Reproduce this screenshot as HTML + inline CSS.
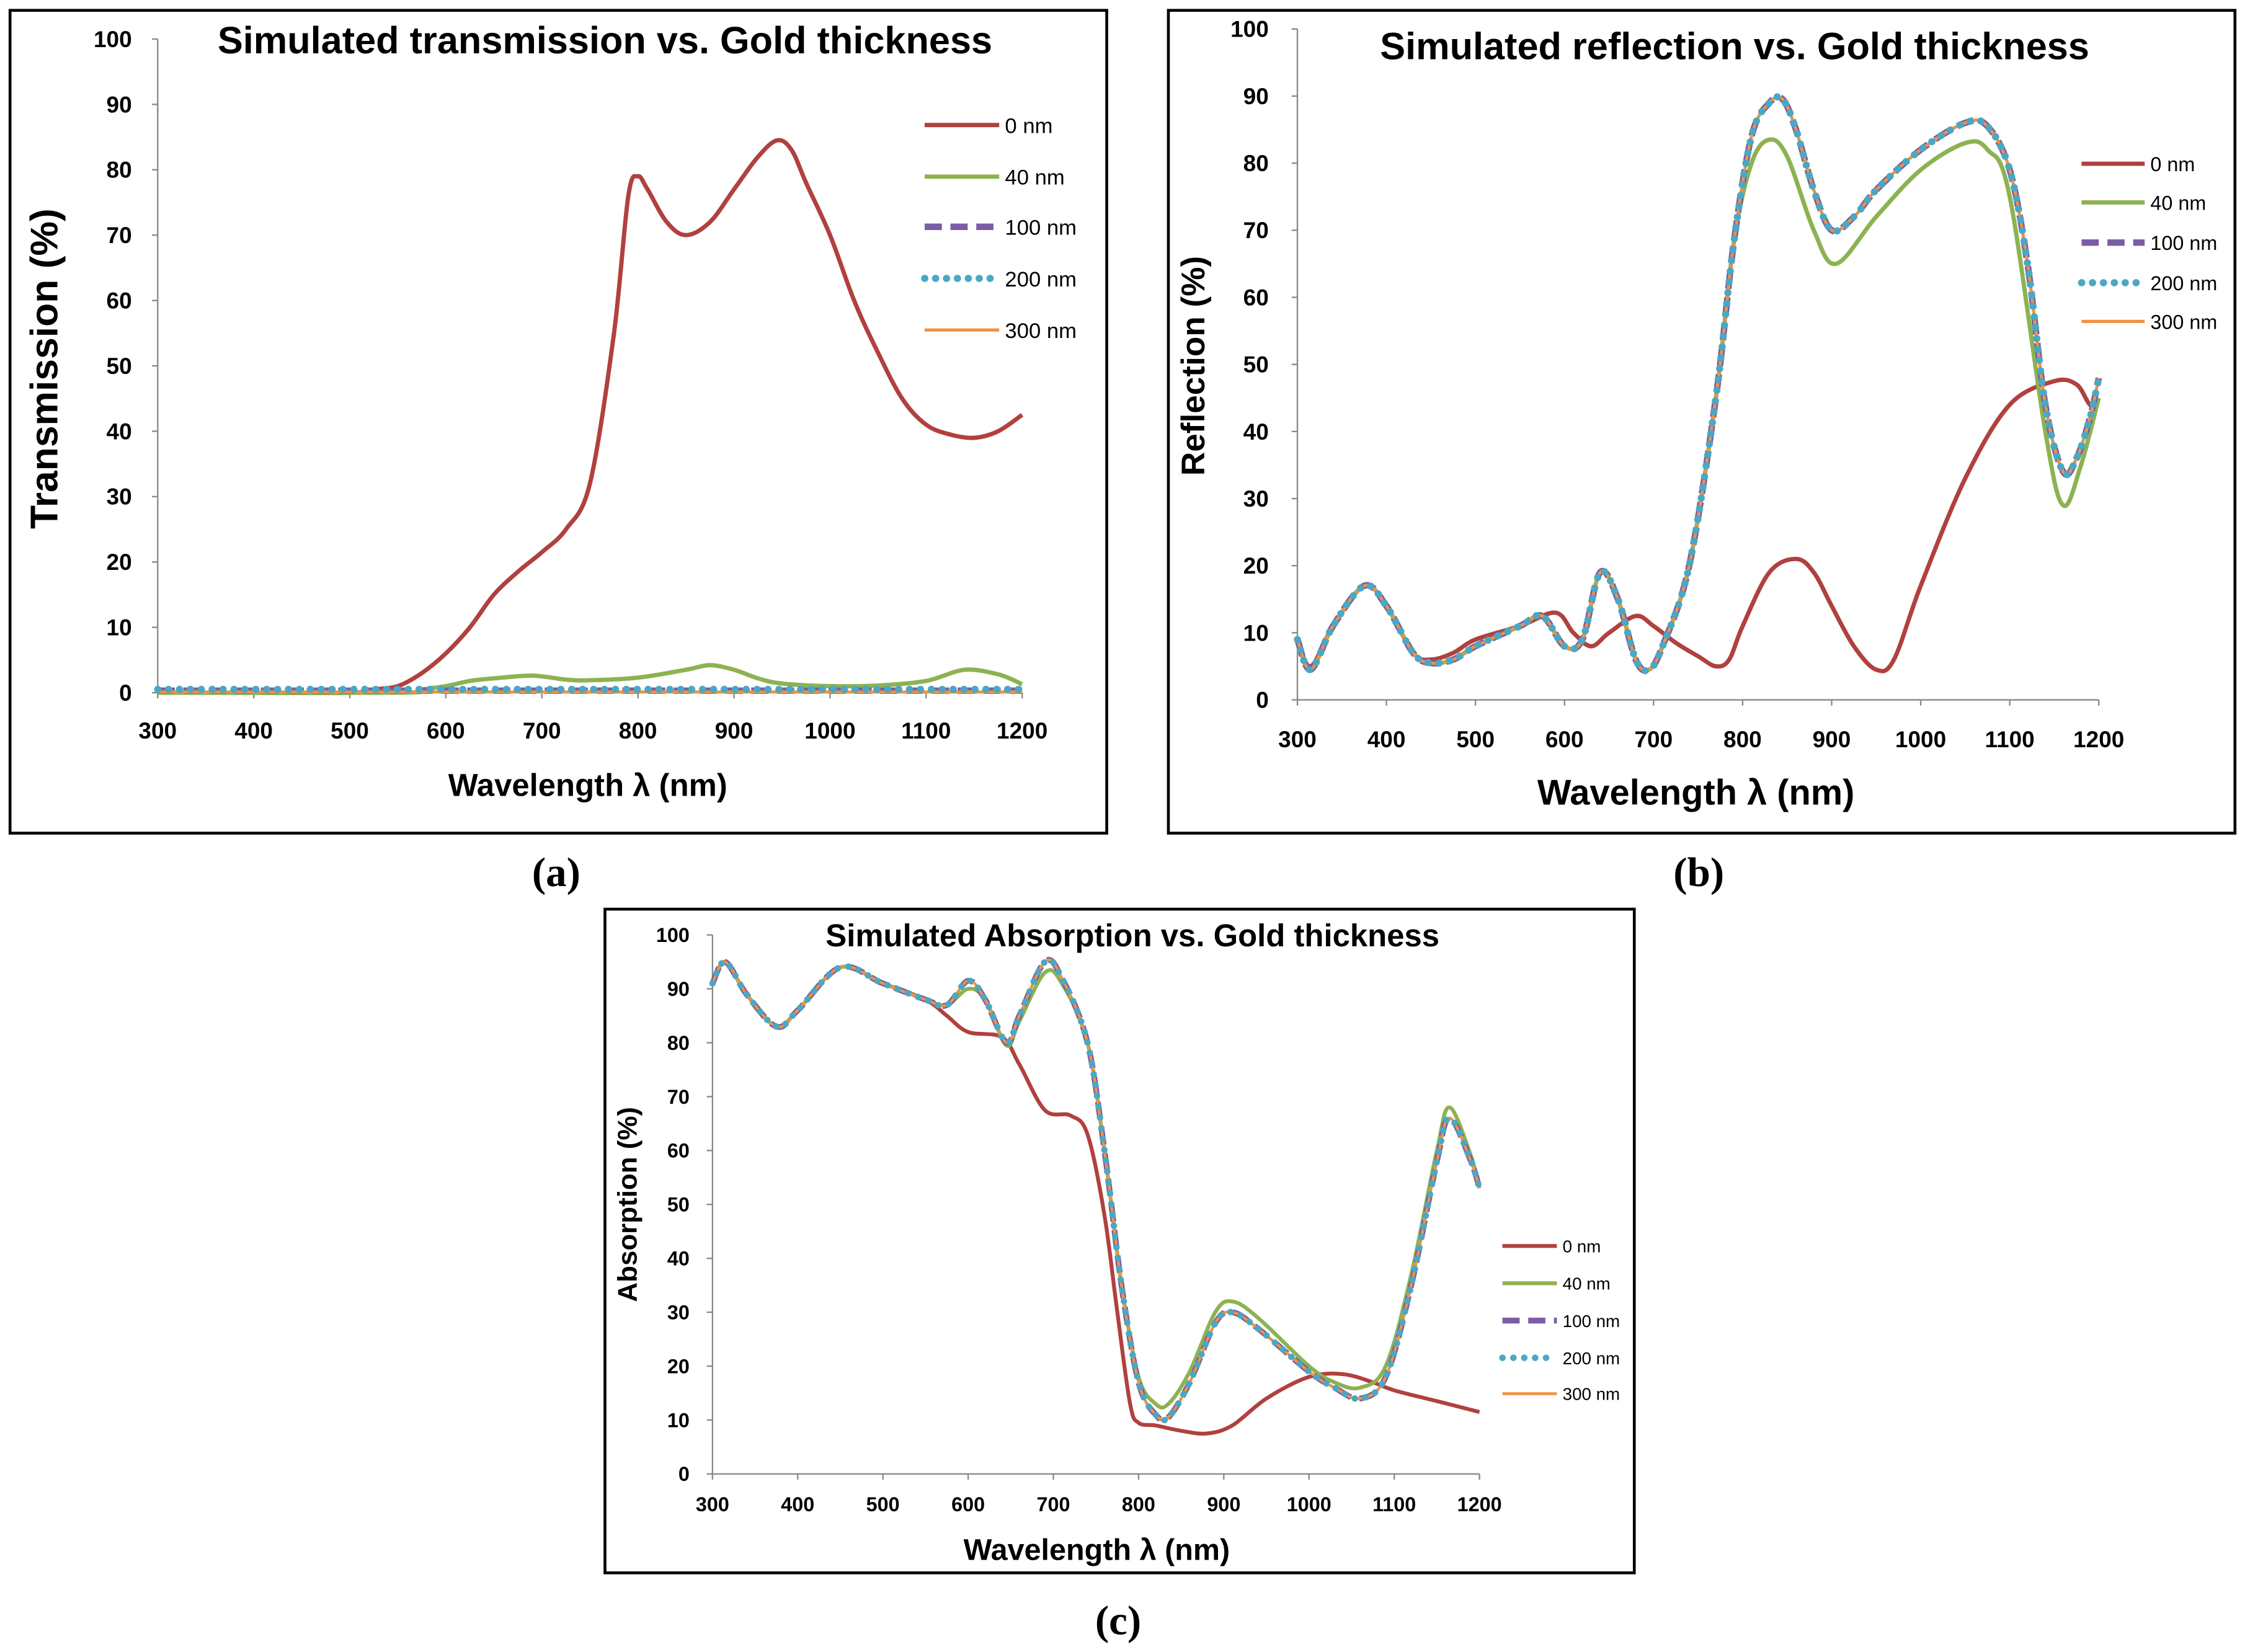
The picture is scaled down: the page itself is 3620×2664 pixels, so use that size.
<!DOCTYPE html>
<html><head><meta charset="utf-8"><style>
html,body{margin:0;padding:0;background:#fff}
svg{display:block}
text{font-family:"Liberation Sans",sans-serif}
</style></head><body>
<svg id="fig" width="3620" height="2664" viewBox="0 0 1566 1152" xmlns="http://www.w3.org/2000/svg"></svg>
<script>
// ---- data ----
const seriesNames = ["0 nm","40 nm","100 nm","200 nm","300 nm"];
// (a) transmission
const tWl0 = [300,400,500,525,550,575,600,625,650,675,700,725,750,775,790,800,810,830,850,875,900,925,945,960,975,1000,1025,1050,1075,1100,1125,1150,1175,1200];
const tVal0 = [0,0,0,0.5,1,3,6,10,15,18.5,21.5,25,32,55,76,79,77,72,70,72,77,82,84.5,83,78,70,60,52,45,41,39.5,39,40,42.5];
const tWl40 = [300,550,575,600,625,650,690,725,750,800,850,875,900,925,950,1000,1050,1100,1140,1175,1200];
const tVal40 = [0,0,0.5,1,1.8,2.2,2.6,2,1.9,2.3,3.5,4.2,3.5,2.2,1.4,1,1.1,1.8,3.5,2.8,1.3];
const tWlThick = [300,1200];
const tVal100 = [0.3,0.3];
const tVal200 = [0.5,0.5];
const tVal300 = [0.1,0.1];
// (b) reflection
const rWl0 = [300,315,340,375,400,430,450,475,500,550,590,610,630,650,680,700,725,750,770,785,800,830,860,880,900,925,950,970,1000,1050,1100,1150,1175,1190,1200];
const rVal0 = [9,5,11,17,14,7,6,7,9,11,13,10,8,10,12.5,11,8.5,6.5,5,6,11,19,21,19,14,8,4.5,6,17,33,44,47.5,47,44,44];
const rWl = [300,315,340,375,400,430,450,475,500,550,575,600,620,640,660,680,695,710,740,770,790,810,830,845,860,880,900,925,950,1000,1050,1075,1100,1120,1140,1160,1175,1190,1200];
const rVal100 = [9,4.5,11,17,14,7,5.5,6,8,11,12.5,8,9,19,15,6,4.5,8,20,45,68,84,89,89.5,85,76,70,72,76,82,86,85.5,79,65,44,34,36,42,48];
const rWl40 = [300,315,340,375,400,430,450,475,500,550,575,600,620,640,660,680,695,710,740,770,790,810,830,850,880,905,950,1000,1050,1075,1100,1140,1160,1180,1200];
const rVal40 = [9,4.5,11,17,14,7,5.5,6,8,11,12.5,8,9,19,15,6,4.5,8,20,45,68,80,83.5,81,70,65,72,79,83,82,75,40,29,35,45];
// (c) absorption
const aWl = [300,315,340,375,400,450,500,550,575,600,620,645,660,690,710,740,760,780,800,820,835,860,890,910,940,1000,1030,1060,1090,1120,1150,1165,1190,1200];
const aVal100 = [91,95,89,83,86,94,91,88,87,91.5,88,80,85,95,92,80,60,35,17,11,10.5,17,28,30,27,19,16,14,18,35,58,66,58,53];
const aVal40 = [91,95,89,83,86,94,91,88,87,90,88,79.5,84,93,91,80,60,35,18,13,13,19,30,32,29,20,17,16,20,37,60,68,59,53];
const aWl0 = [300,315,340,375,400,450,500,550,575,600,640,660,690,720,740,760,775,790,800,820,850,880,910,950,1000,1040,1075,1100,1150,1200];
const aVal0 = [91,95,89,83,86,94,91,88,85,82,81,76,67.5,66.5,63,48,30,13,9.5,9,8,7.5,9,14,18,18.5,17,15.5,13.5,11.5];
const xTicks = [300,400,500,600,700,800,900,1000,1100,1200];
const yTicks = [0,10,20,30,40,50,60,70,80,90,100];

const NS="http://www.w3.org/2000/svg";
const svg=document.getElementById('fig');
function el(tag,attrs,parent,txt){const e=document.createElementNS(NS,tag);for(const k in attrs)e.setAttribute(k,attrs[k]);if(txt!==undefined)e.textContent=txt;(parent||svg).appendChild(e);return e;}
const styles=[
 {stroke:"#b0413e",w:3,dash:null},
 {stroke:"#8db252",w:3,dash:null},
 {stroke:"#7a5da6",w:4.5,dash:"12,6"},
 {stroke:"#4aa8c4",w:5,dash:"0.1,7.5",cap:"round"},
 {stroke:"#f0923f",w:2.2,dash:null}];
const drawOrder=[0,1,2,4,3];
function smoothPath(pts){
 let d="M"+pts[0][0].toFixed(1)+","+pts[0][1].toFixed(1);
 for(let i=0;i<pts.length-1;i++){
  const p0=pts[i-1]||pts[i],p1=pts[i],p2=pts[i+1],p3=pts[i+2]||p2;
  const c1=[p1[0]+(p2[0]-p0[0])/6,p1[1]+(p2[1]-p0[1])/6];
  const c2=[p2[0]-(p3[0]-p1[0])/6,p2[1]-(p3[1]-p1[1])/6];
  d+=" C"+c1[0].toFixed(1)+","+c1[1].toFixed(1)+" "+c2[0].toFixed(1)+","+c2[1].toFixed(1)+" "+p2[0].toFixed(1)+","+p2[1].toFixed(1);
 }
 return d;}
function chart(c){
 const g=el('g',{},svg);
 
 
 const fr=el('rect',{x:c.frame[0],y:c.frame[1],width:c.frame[2],height:c.frame[3],fill:"#fff",stroke:"#000","stroke-width":2},g);
 
 
 const xs=v=>c.x0+(v-300)/900*(c.x1-c.x0);
 const ys=v=>c.y0-(v)/100*(c.y0-c.y1);
 const ax=el('g',{},g);
 
 
 el('line',{x1:c.x0,y1:c.y0,x2:c.x1,y2:c.y0,stroke:"#888","stroke-width":1},ax);
 el('line',{x1:c.x0,y1:c.y0,x2:c.x0,y2:c.y1,stroke:"#888","stroke-width":1},ax);
 xTicks.forEach(t=>{
  el('line',{x1:xs(t),y1:c.y0,x2:xs(t),y2:c.y0+4,stroke:"#888"},ax);
  const tx=el('text',{x:xs(t),y:c.y0+c.fs+c.xtOff,"font-size":c.fs,"font-weight":"bold","text-anchor":"middle"},ax,String(t));
  
  
 });
 yTicks.forEach(t=>{
  el('line',{x1:c.x0-4,y1:ys(t),x2:c.x0,y2:ys(t),stroke:"#888"},ax);
  const tx=el('text',{x:c.x0-c.ytOff,y:ys(t)+c.fs*0.35,"font-size":c.fs,"font-weight":"bold","text-anchor":"end"},ax,String(t));
  
  
 });
 const ti=el('text',{x:c.title[1],y:c.title[2],"font-size":c.title[3],"font-weight":"bold","text-anchor":"middle"},g,c.title[0]);
 
 
 const xl=el('text',{x:c.xl[0],y:c.xl[1],"font-size":c.xl[2],"font-weight":"bold","text-anchor":"middle"},g,"Wavelength \u03BB (nm)");
 
 
 const yl=el('text',{x:0,y:0,"font-size":c.yl[3],"font-weight":"bold","text-anchor":"middle",transform:`translate(${c.yl[1]},${c.yl[2]}) rotate(-90)`},g,c.yl[0]);
 
 
 drawOrder.forEach(i=>{
  const s=c.series[i];
  const st=styles[i];
  const pts=s[0].map((w,j)=>[xs(w),ys(s[1][j])]);
  const p=el('path',{d:smoothPath(pts),fill:"none",stroke:st.stroke,"stroke-width":st.w*c.lw,"stroke-linecap":st.cap||"butt","stroke-linejoin":"round"},g);
  if(st.dash)p.setAttribute('stroke-dasharray',st.dash);
  
  
 });
 const lg=el('g',{},g);
 
 
 seriesNames.forEach((n,i)=>{
  const st=styles[i];const y=c.leg.ys[i];
  const e=el('g',{},lg);
  
  
  const l=el('line',{x1:c.leg.x0,y1:y,x2:c.leg.x1,y2:y,stroke:st.stroke,"stroke-width":st.w*c.lw,"stroke-linecap":st.cap||"butt"},e);
  if(st.dash)l.setAttribute('stroke-dasharray',st.dash);
  el('text',{x:c.leg.x1+4,y:y+c.leg.fs*0.37,"font-size":c.leg.fs},e,n);
 });
 return g;}

chart({id:"transmission-chart",frame:[7,7,765,574],x0:110,x1:713,y0:483,y1:27,fs:16,ytOff:18,xtOff:16,lw:1,
 title:["Simulated transmission  vs. Gold thickness",422,37,26.5],
 xl:[410,555,22],yl:["Transmission (%)",40,257,27],
 leg:{x0:645,x1:697,ys:[87,123,158,194,230],fs:15},
 series:[[tWl0,tVal0],[tWl40,tVal40],[tWlThick,tVal100],[tWlThick,tVal200],[tWlThick,tVal300]]});
chart({id:"reflection-chart",frame:[815,7,744,574],x0:905,x1:1464,y0:488,y1:20,fs:16,ytOff:20,xtOff:17,lw:1,
 title:["Simulated reflection vs. Gold thickness",1210,41,26.5],
 xl:[1183,561,25],yl:["Reflection (%)",840,255,23],
 leg:{x0:1452,x1:1496,ys:[114,141,169,197,224],fs:14},
 series:[[rWl0,rVal0],[rWl40,rVal40],[rWl,rVal100],[rWl,rVal100],[rWl,rVal100]]});
chart({id:"absorption-chart",frame:[422,634,718,463],x0:497,x1:1032,y0:1028,y1:652,fs:14,ytOff:16,xtOff:12,lw:0.9,
 title:["Simulated Absorption vs. Gold thickness",790,660,22],
 xl:[765,1088,21],yl:["Absorption (%)",444,840,19],
 leg:{x0:1048,x1:1086,ys:[869,895,921,947,972],fs:12},
 series:[[aWl0,aVal0],[aWl,aVal40],[aWl,aVal100],[aWl,aVal100],[aWl,aVal100]]});
[["(a)",388,618],["(b)",1185,618],["(c)",780,1140]].forEach(c=>{
 const t=el('text',{x:c[1],y:c[2],"font-size":29,"font-weight":"bold","text-anchor":"middle",style:"font-family:'Liberation Serif',serif"},svg,c[0]);
 
 
});
</script>
</body></html>
